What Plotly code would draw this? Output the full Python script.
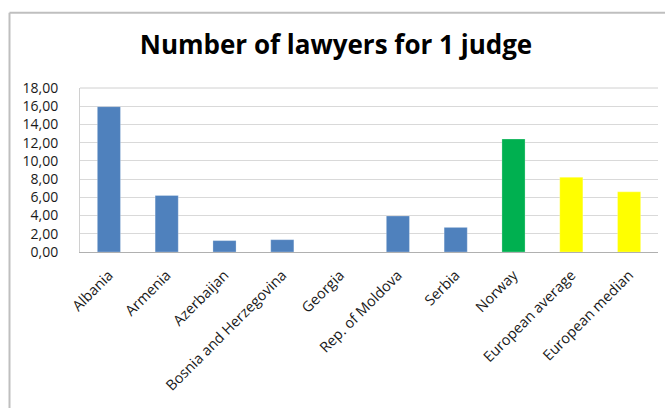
import plotly.graph_objects as go

# Lawyers per judge, by country / reference group
countries = ["Albania", "Armenia", "Azerbaijan", "Bosnia and Herzegovina", "Georgia",
             "Rep. of Moldova", "Serbia", "Norway", "European average", "European median"]
lawyers_per_judge = [15.95, 6.2, 1.25, 1.35, None, 3.95, 2.7, 12.4, 8.2, 6.6]
bar_colors = ["#4f81bd"] * 7 + ["#00b050", "#ffff00", "#ffff00"]
y_ticks = [0, 2, 4, 6, 8, 10, 12, 14, 16, 18]

W, H = 665, 408
L, R, T, B = 80, 7, 88, 155.5

fig = go.Figure(go.Bar(
    x=countries,
    y=lawyers_per_judge,
    marker=dict(color=bar_colors, line=dict(color="rgba(255,255,255,0.5)", width=0.5)),
    width=0.4,
))

pw = W - L - R
ph = H - T - B

def px_x(p):
    return (p - L) / pw

def px_y(p):
    return (H - B - p) / ph

fig.update_layout(
    width=W, height=H,
    margin=dict(l=L, r=R, t=T, b=B, pad=0),
    paper_bgcolor="white", plot_bgcolor="white",
    separators=", ",
    showlegend=False,
    font=dict(family="Open Sans, Liberation Sans, sans-serif", color="#1a1a1a"),
    title=dict(
        text="<b>Number of lawyers for 1 judge</b>",
        x=336 / W, xref="container", xanchor="center",
        y=1 - 45 / H, yref="container", yanchor="middle",
        font=dict(size=26, color="#000000"),
    ),
    xaxis=dict(
        tickangle=-45, tickfont=dict(size=14.5),
        showline=True, linecolor="#b0b0b0", linewidth=1,
        showgrid=False, ticks="", ticklabelstandoff=8,
    ),
    yaxis=dict(
        range=[0, 18], tickvals=y_ticks, tickformat=".2f",
        tickfont=dict(size=14),
        showgrid=True, gridcolor="#d9d9d9", gridwidth=1,
        showline=True, linecolor="#d0d0d0", linewidth=1,
        ticks="", ticklabelstandoff=18, zeroline=False,
    ),
    shapes=[
        # outer chart frame (top and left edges)
        dict(type="line", xref="paper", yref="paper",
             x0=px_x(9.5), x1=px_x(W + 5), y0=px_y(12.5), y1=px_y(12.5),
             line=dict(color="#bfbfbf", width=2)),
        dict(type="line", xref="paper", yref="paper",
             x0=px_x(9.5), x1=px_x(9.5), y0=px_y(12.5), y1=px_y(H + 5),
             line=dict(color="#bfbfbf", width=2)),
        # top border of plot area
        dict(type="line", xref="paper", yref="paper",
             x0=0, x1=1, y0=1, y1=1, line=dict(color="#d0d0d0", width=1)),
    ],
)

fig.write_html("out.html")
